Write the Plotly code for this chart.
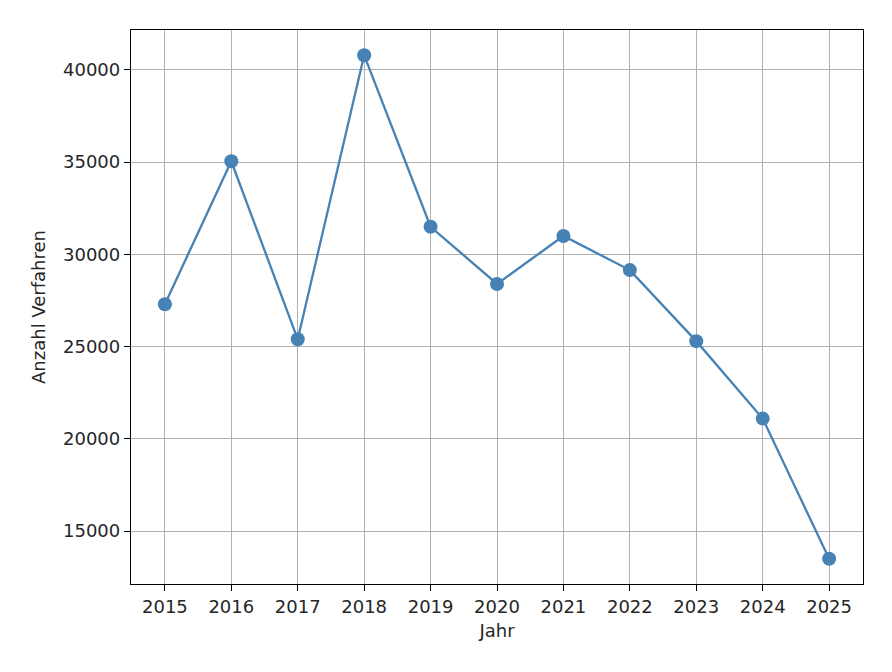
import plotly.graph_objects as go

years = [2015, 2016, 2017, 2018, 2019, 2020, 2021, 2022, 2023, 2024, 2025]
counts = [27300, 35050, 25400, 40800, 31500, 28400, 31000, 29150, 25300, 21100, 13500]
y_ticks = [15000, 20000, 25000, 30000, 35000, 40000]

FONT = "DejaVu Sans"
TEXT = "#262626"

fig = go.Figure()
fig.add_trace(go.Scatter(
    x=years, y=counts, mode="lines+markers",
    line=dict(color="#4682b4", width=2.3),
    marker=dict(color="#4682b4", size=14),
    showlegend=False,
))

axis_common = dict(
    showline=True, linecolor="black", linewidth=1.3, mirror=True,
    showgrid=True, gridcolor="#b0b0b0", gridwidth=1.1,
    ticks="outside", ticklen=6, tickcolor="black", tickwidth=1.3,
    zeroline=False,
    tickfont=dict(family=FONT, size=18, color=TEXT),
)

fig.update_xaxes(
    range=[2014.49, 2025.51], tickvals=years, ticktext=[str(y) for y in years],
    title=dict(text="Jahr", font=dict(family=FONT, size=18, color=TEXT), standoff=8),
    **axis_common,
)
fig.update_yaxes(
    range=[12135, 42165], tickvals=y_ticks, ticktext=[str(v) for v in y_ticks],
    title=dict(text="Anzahl Verfahren", font=dict(family=FONT, size=18, color=TEXT), standoff=12),
    **axis_common,
)

fig.update_layout(
    width=892, height=672,
    margin=dict(l=123, r=37, t=22, b=96),
    plot_bgcolor="white", paper_bgcolor="white",
    font=dict(family=FONT, size=18, color=TEXT),
)

fig.write_html("out.html")
